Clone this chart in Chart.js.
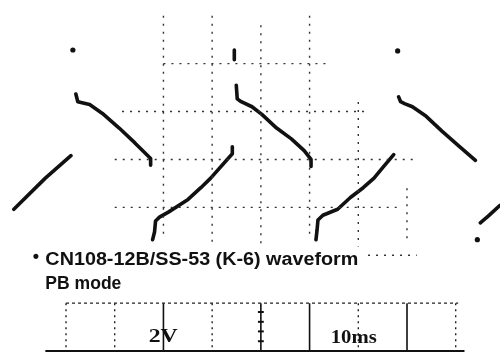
<!DOCTYPE html>
<html>
<head>
<meta charset="utf-8">
<script src="https://cdn.jsdelivr.net/npm/chart.js@4"></script>
<style>
  html, body { margin: 0; padding: 0; background: #fff; }
  canvas { display: block; }
</style>
</head>
<body>
<canvas id="scope" width="504" height="356"></canvas>
<script>
// trace: time in ms (10 ms/div), level in V (2 V/div), null = pen lifted
const traceMs = [
  -30.71, -24.24, -18.99, null,
  -17.98, -17.58, -15.15, -12.53, -9.09, -5.86, -2.63, -2.63, null,
  -2.22, -1.82, -1.62, -0.81, 1.01, 5.05, 7.68, 9.70, 14.14, 14.14, null,
  14.95, 15.15, 15.96, 18.18, 20.20, 23.23, 26.26, 28.89, 30.30, 30.30, null,
  31.31, 31.52, 31.72, 32.73, 35.76, 38.38, 41.01, 43.23, 45.05, 47.27, null,
  48.28, 48.69, 49.49, 51.11, 53.94, 57.17, 60.61, 64.04, null,
  65.05, 66.67, 69.09, null,
  14.55, 14.55
];
const traceV = [
  -2.08, -0.78, 0.16, null,
  2.73, 2.41, 2.29, 1.92, 1.31, 0.69, 0.04, -0.24, null,
  -3.35, -3.02, -2.57, -2.41, -2.20, -1.67, -1.18, -0.78, 0.24, 0.53, null,
  3.10, 2.53, 2.41, 2.20, 1.88, 1.31, 0.86, 0.37, 0.00, -0.29, null,
  -3.35, -2.98, -2.53, -2.33, -2.08, -1.59, -1.18, -0.78, -0.33, 0.20, null,
  2.61, 2.41, 2.33, 2.20, 1.80, 1.18, 0.57, -0.04, null,
  -2.65, -2.37, -1.92, null,
  4.57, 4.16
];
// stray spots on the screen
const spotMs = [-18.59, 48.08, 64.44];
const spotV = [4.57, 4.53, -3.35];

// graticule pieces that show on the scan
const gridColMs = [0, 10, 20, 30, 40, 50];
const gridColTop = [6, 6, 5.6, 6, 2.4, -1.2];
const gridColBottom = [-3.35, -3.63, -3.63, -3.35, -3.63, -3.3];
const gridRowV = [4, 2, 0, -2, -4];
const gridRowFrom = [0, -8.5, -10, -10, 42];
const gridRowTo = [34, 42.4, 52, 48, 52];

// settings panel under the caption
const panelColMs = [-20, -10, 0, 10, 20, 30, 40, 50, 60];
const panelColSolid = [false, false, true, false, true, true, false, true, false];
const panelTickV = [-6.37, -6.78, -7.18, -7.59];

const labelText = ['•', 'CN108-12B/SS-53 (K-6) waveform', 'PB mode', '2V', '10ms'];
const labelMs = [-26.2, -24.24, -24.24, -3.03, 34.34];
const labelV = [-4.3, -4.41, -5.43, -7.63, -7.67];

const xMin = -32.73, xMax = 69.09;
const yMin = -8.04, yMax = 6.49;

const ink = '#111';
const dotted = [2, 6];

const pts = (xs, ys) => xs.map((t, i) => (t === null ? { x: null, y: null } : { x: t, y: ys[i] }));

const datasets = [];

gridColMs.forEach((t, i) => {
  datasets.push({ data: [{ x: t, y: gridColTop[i] }, { x: t, y: gridColBottom[i] }],
    borderColor: '#333', borderWidth: 1.4, borderDash: dotted, pointRadius: 0, showLine: true });
});
gridRowV.forEach((v, i) => {
  datasets.push({ data: [{ x: gridRowFrom[i], y: v }, { x: gridRowTo[i], y: v }],
    borderColor: '#333', borderWidth: 1.4, borderDash: dotted, pointRadius: 0, showLine: true });
});

// panel frame
datasets.push({ data: [{ x: -20, y: -6 }, { x: 60.5, y: -6 }],
  borderColor: '#222', borderWidth: 1.4, borderDash: [3, 3], pointRadius: 0, showLine: true });
datasets.push({ data: [{ x: -24.24, y: -8 }, { x: 61.8, y: -8 }],
  borderColor: ink, borderWidth: 2, pointRadius: 0, showLine: true });
panelColMs.forEach((t, i) => {
  datasets.push({ data: [{ x: t, y: -6 }, { x: t, y: -8 }],
    borderColor: ink, borderWidth: panelColSolid[i] ? 1.6 : 1.3,
    borderDash: panelColSolid[i] ? [] : [2, 4], pointRadius: 0, showLine: true });
});
panelTickV.forEach(v => {
  datasets.push({ data: [{ x: 19.4, y: v }, { x: 20.6, y: v }],
    borderColor: ink, borderWidth: 2, pointRadius: 0, showLine: true });
});

// the waveform itself
datasets.push({ data: pts(traceMs, traceV), borderColor: ink, borderWidth: 3.6,
  borderCapStyle: 'round', borderJoinStyle: 'round', pointRadius: 0, showLine: true, spanGaps: false });
datasets.push({ data: pts(spotMs, spotV), backgroundColor: ink, borderWidth: 0, pointRadius: 2.6, showLine: false });

const captionFonts = [
  { font: 'bold 18px "Liberation Sans", Arial, sans-serif', width: 0, align: 'center' },
  { font: 'bold 18px "Liberation Sans", Arial, sans-serif', width: 313 },
  { font: 'bold 18px "Liberation Sans", Arial, sans-serif', width: 76 },
  { font: 'bold 18px "Liberation Serif", "Times New Roman", serif', width: 29 },
  { font: 'bold 18px "Liberation Serif", "Times New Roman", serif', width: 46 }
];

const labelPlugin = {
  id: 'scanLabels',
  afterDatasetsDraw(chart) {
    const { ctx, scales: { x, y } } = chart;
    labelText.forEach((txt, i) => {
      const st = captionFonts[i];
      ctx.save();
      ctx.font = st.font;
      ctx.fillStyle = ink;
      ctx.textAlign = st.align || 'left';
      ctx.textBaseline = 'alphabetic';
      const w = ctx.measureText(txt).width;
      const sx = st.width ? st.width / w : 1;
      ctx.translate(x.getPixelForValue(labelMs[i]), y.getPixelForValue(labelV[i]));
      ctx.scale(sx, 1);
      ctx.fillText(txt, 0, 0);
      ctx.restore();
    });
  }
};

new Chart(document.getElementById('scope'), {
  type: 'scatter',
  data: { datasets },
  options: {
    responsive: false,
    animation: false,
    devicePixelRatio: 1,
    layout: { padding: 0 },
    plugins: { legend: { display: false }, tooltip: { enabled: false } },
    scales: {
      x: { type: 'linear', min: xMin, max: xMax, display: false },
      y: { type: 'linear', min: yMin, max: yMax, display: false }
    }
  },
  plugins: [labelPlugin]
});
</script>
</body>
</html>
